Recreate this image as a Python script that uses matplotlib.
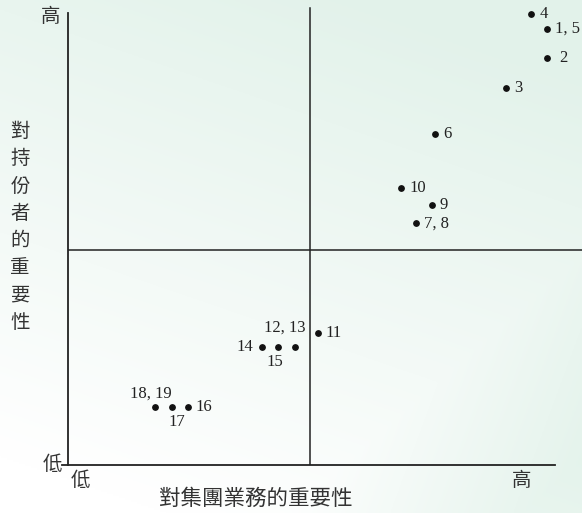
import matplotlib.pyplot as plt
import numpy as np

# Materiality matrix: importance to the group (x) vs. importance to stakeholders (y)
labels = ['4', '1, 5', '2', '3', '6', '10', '9', '7, 8', '11',
          '12, 13', '15', '14', '16', '17', '18, 19']
x_vals = [9.51, 9.84, 9.84, 8.99, 7.54, 6.84, 7.47, 7.15, 5.13,
          4.66, 4.31, 3.98, 2.46, 2.14, 1.79]
y_vals = [9.98, 9.65, 9.00, 8.34, 7.32, 6.13, 5.75, 5.35, 2.92,
          2.61, 2.61, 2.61, 1.28, 1.28, 1.28]

x_title = '對集團業務的重要性'
y_title = '對持份者的重要性'
low_txt, high_txt = '低', '高'
x_split, y_split = 4.97, 4.76

# label placement (pixel offset from the dot, horizontal alignment)
px = 72 / 100
label_pos = {
    '2': ((12, 0), 'left'),
    '12, 13': ((-10, 19), 'center'),
    '15': ((-3, -15), 'center'),
    '14': ((-9, 0), 'right'),
    '17': ((5, -15), 'center'),
    '18, 19': ((-4, 14), 'center'),
}

cjk = ['Noto Sans CJK TC', 'DejaVu Sans']
num_font = 'Liberation Serif'

fig = plt.figure(figsize=(5.82, 5.13), dpi=100)

# soft green background
bg = fig.add_axes([0, 0, 1, 1], zorder=-1)
h, w = 256, 290
yy, xx = np.mgrid[0:1:h*1j, 0:1:w*1j]
t = np.clip(1.15 - 0.9 * yy - 0.35 * (1 - xx), 0, 1)
corner = np.clip((xx - 0.75) * 2.5 + (yy - 0.75) * 2.5, 0, 1) * 0.6
t = np.clip(t + corner, 0, 1)
mint = np.array([0.89, 0.95, 0.92])
img = 1 - (1 - mint) * t[..., None]
bg.imshow(img, aspect='auto', extent=[0, 1, 0, 1])
bg.axis('off')

# axes: pixel x 68..582, y 465..0
ax = fig.add_axes([68 / 582, 48 / 513, 514 / 582, 465 / 513])
ax.set_xlim(0, 514 / 48.7)
ax.set_ylim(0, 465 / 45.2)
ax.patch.set_alpha(0)
for s in ax.spines.values():
    s.set_visible(False)
ax.set_xticks([])
ax.set_yticks([])

lc = '#222222'
ax.plot([0, 0], [0, 10], color=lc, lw=1.3, clip_on=False)
ax.plot([-0.12, 10], [0, 0], color=lc, lw=1.3, clip_on=False)
ax.plot([x_split, x_split], [0, 10.12], color=lc, lw=1.1)
ax.plot([0, 514 / 48.7], [y_split, y_split], color=lc, lw=1.1)

ax.scatter(x_vals, y_vals, s=15, color='#111111', zorder=3)

for lab, x, y in zip(labels, x_vals, y_vals):
    (dx, dy), ha = label_pos.get(lab, ((8, 0), 'left'))
    ax.annotate(lab, (x, y), xytext=(dx * px, dy * px), textcoords='offset points',
                ha=ha, va='center', fontsize=12, family=num_font, color='#222222',
                annotation_clip=False)

tc = '#333333'
fig.text(60 / 582, 1 - 16 / 513, high_txt, ha='right', va='center', fontsize=14, family=cjk, color=tc)
fig.text(62 / 582, 1 - 465 / 513, low_txt, ha='right', va='center', fontsize=14, family=cjk, color=tc)
fig.text(80 / 582, 1 - 481 / 513, low_txt, ha='center', va='center', fontsize=14, family=cjk, color=tc)
fig.text(522 / 582, 1 - 481 / 513, high_txt, ha='center', va='center', fontsize=14, family=cjk, color=tc)
fig.text(256 / 582, 1 - 499 / 513, x_title, ha='center', va='center', fontsize=15.5, family=cjk, color=tc)
fig.text(20 / 582, 1 - 227 / 513, '\n'.join(y_title), ha='center', va='center', fontsize=14,
         family=cjk, color=tc, linespacing=1.39)

fig.savefig('out.png', dpi=100)
